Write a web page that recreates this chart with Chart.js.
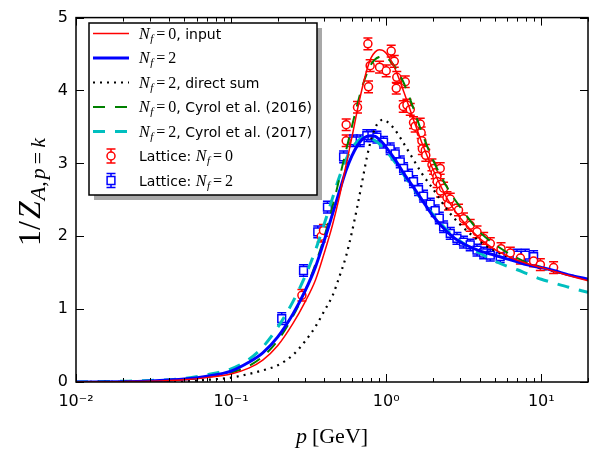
<!DOCTYPE html>
<html lang="en">
<head>
<meta charset="utf-8">
<title>Gluon dressing 1/Z_A</title>
<script src="https://cdn.jsdelivr.net/npm/chart.js@4.4.0/dist/chart.umd.min.js"></script>
<style>
  body { margin: 0; background: #fff; }
  #plot { display: block; }
</style>
</head>
<body>
<canvas id="plot" width="604" height="455"></canvas>
<script>
// momentum grid of the curves [GeV]
const pCurve = [0.01, 0.02, 0.03, 0.05, 0.07, 0.1, 0.13, 0.16, 0.2, 0.25, 0.3, 0.35, 0.4, 0.45, 0.5, 0.55,
  0.6, 0.65, 0.7, 0.75, 0.8, 0.85, 0.9, 0.95, 1.0, 1.1, 1.2, 1.3, 1.5, 1.7, 2.0, 2.5, 3.0, 4.0, 5.0, 6.0,
  7.0, 8.0, 10, 12, 15, 20];

// N_f = 0, input
const nf0Input = [0, 0.005, 0.01, 0.03, 0.06, 0.11, 0.19, 0.3, 0.5, 0.8, 1.1, 1.4, 1.78, 2.15, 2.55, 2.97,
  3.35, 3.72, 4.03, 4.28, 4.45, 4.53, 4.56, 4.55, 4.51, 4.37, 4.18, 3.98, 3.6, 3.28, 2.92, 2.5, 2.25, 1.97, 1.82, 1.73,
  1.67, 1.63, 1.57, 1.52, 1.46, 1.39];
// N_f = 2
const nf2 = [0, 0.005, 0.015, 0.04, 0.08, 0.15, 0.27, 0.4, 0.62, 0.93, 1.25, 1.58, 1.95, 2.3, 2.62, 2.9,
  3.1, 3.24, 3.33, 3.37, 3.38, 3.37, 3.33, 3.28, 3.22, 3.1, 2.98, 2.86, 2.67, 2.5, 2.28, 2.05, 1.92, 1.8, 1.74, 1.69,
  1.65, 1.61, 1.57, 1.53, 1.47, 1.41];
// N_f = 2, direct sum
const nf2Direct = [0, 0.002, 0.005, 0.01, 0.03, 0.06, 0.11, 0.16, 0.23, 0.37, 0.56, 0.76, 0.98, 1.18, 1.45, 1.72,
  2.05, 2.4, 2.75, 3.08, 3.33, 3.49, 3.57, 3.6, 3.58, 3.5, 3.39, 3.27, 3.05, 2.86, 2.65, 2.35, 2.16, 1.93, 1.8, 1.72,
  1.66, 1.62, 1.56, 1.52, 1.47, 1.41];
// N_f = 0, Cyrol et al. (2016)
const nf0Cyrol = [0, 0.005, 0.012, 0.035, 0.07, 0.13, 0.22, 0.35, 0.57, 0.9, 1.25, 1.62, 2.0, 2.4, 2.8, 3.17,
  3.5, 3.8, 4.05, 4.23, 4.36, 4.43, 4.46, 4.47, 4.45, 4.37, 4.24, 4.1, 3.75, 3.42, 3.05, 2.65, 2.4, 2.06, 1.89, 1.78,
  1.7, 1.64, 1.58, null, null, null];
// N_f = 2, Cyrol et al. (2017)
const nf2Cyrol = [0, 0.01, 0.02, 0.05, 0.1, 0.18, 0.31, 0.48, 0.75, 1.1, 1.45, 1.81, 2.18, 2.52, 2.82, 3.05,
  3.2, 3.3, 3.35, 3.36, 3.34, 3.31, 3.27, 3.22, 3.17, 3.06, 2.95, 2.84, 2.65, 2.5, 2.3, 2.07, 1.93, 1.77, 1.66, 1.59,
  1.54, 1.49, 1.41, 1.36, 1.3, 1.23];

// lattice, N_f = 0
const latP0 = [0.286, 0.381, 0.394, 0.552, 0.552, 0.653, 0.762, 0.769, 0.788, 0.906, 1.0, 1.077, 1.127, 1.161,
  1.17, 1.288, 1.327, 1.36, 1.429, 1.5, 1.538, 1.657, 1.68, 1.698, 1.71, 1.786, 1.8, 1.972, 2.02, 2.07, 2.123,
  2.13, 2.229, 2.23, 2.24, 2.344, 2.465, 2.52, 2.588, 2.926, 3.15, 3.48, 3.85, 4.25, 4.69, 5.5, 6.31, 7.33, 8.92,
  9.86, 12.0];
const latV0 = [1.19, 2.0, 2.08, 3.31, 3.53, 3.77, 4.64, 4.05, 4.34, 4.32, 4.27, 4.54, 4.4, 4.03,
  4.18, 3.78, 4.12, 3.8, 3.74, 3.56, 3.51, 3.54, 3.42, 3.31, 3.2, 3.18, 3.11, 2.98, 2.93, 2.87, 2.82,
  2.75, 2.93, 2.71, 2.62, 2.66, 2.53, 2.44, 2.51, 2.36, 2.24, 2.15, 2.06, 1.97, 1.9, 1.83, 1.77, 1.7, 1.66,
  1.61, 1.57];
// lattice, N_f = 2
const latP2 = [0.212, 0.293, 0.362, 0.418, 0.531, 0.615, 0.68, 0.75, 0.809, 0.871, 0.961, 1.061, 1.143, 1.232,
  1.294, 1.393, 1.5, 1.616, 1.74, 1.923, 2.07, 2.2, 2.344, 2.588, 2.858, 3.15, 3.48, 3.85, 4.25, 4.69, 5.43,
  6.97, 7.88, 8.92];
const latV2 = [0.87, 1.53, 2.06, 2.4, 3.09, 3.31, 3.31, 3.38, 3.38, 3.36, 3.29, 3.2, 3.13, 3.02,
  2.93, 2.84, 2.75, 2.64, 2.55, 2.44, 2.35, 2.25, 2.13, 2.04, 1.97, 1.92, 1.88, 1.81, 1.77, 1.74, 1.72,
  1.74, 1.74, 1.72];
const latErr = 0.08;

const xMajor = [0.01, 0.1, 1, 10];
const xLabels = ['10\u207B\u00B2', '10\u207B\u00B9', '10\u2070', '10\u00B9'];

Chart.defaults.font.family = '"DejaVu Sans", sans-serif';
Chart.defaults.color = '#000';

function pts(px, ys) {
  return px.map((p, i) => ({ x: p, y: ys[i] }));
}

function curve(label, ys, color, width, dash) {
  return {
    label: label, data: pts(pCurve, ys), showLine: true, borderColor: color, borderWidth: width,
    borderDash: dash, pointRadius: 0, pointHoverRadius: 0, cubicInterpolationMode: 'monotone', spanGaps: false
  };
}

function lattice(label, px, ys, color, style, radius) {
  return {
    label: label, data: pts(px, ys), showLine: false, borderColor: color, backgroundColor: '#fff',
    pointStyle: style, pointRadius: radius, pointBorderWidth: 1.5, errorBar: latErr
  };
}

// text with N_f written as math
function seg(ctx, t, font, x, y) {
  ctx.font = font;
  ctx.fillText(t, x, y);
  return x + ctx.measureText(t).width;
}
function drawRich(ctx, text, x, y) {
  const serif = '"Liberation Serif", serif';
  text.split(/(N_f=\d)/).forEach(part => {
    if (!part) return;
    const m = part.match(/^N_f=(\d)$/);
    if (m) {
      x = seg(ctx, 'N', 'italic 16px ' + serif, x, y);
      x = seg(ctx, 'f', 'italic 11px ' + serif, x + 0.5, y + 3);
      x = seg(ctx, '=', '16px ' + serif, x + 3, y);
      x = seg(ctx, m[1], '16px ' + serif, x + 3, y);
    } else {
      x = seg(ctx, part, '14px "DejaVu Sans"', x, y);
    }
  });
}

// matplotlib like error bars
const errorBars = {
  id: 'errorBars',
  beforeDatasetsDraw(chart) {
    const { ctx, scales: { y } } = chart;
    ctx.save();
    chart.data.datasets.forEach((ds, i) => {
      if (!ds.errorBar) return;
      const meta = chart.getDatasetMeta(i);
      ctx.strokeStyle = ds.borderColor;
      ctx.lineWidth = 1.5;
      meta.data.forEach((el, k) => {
        const v = ds.data[k].y;
        const y1 = y.getPixelForValue(v + ds.errorBar);
        const y2 = y.getPixelForValue(v - ds.errorBar);
        ctx.beginPath();
        ctx.moveTo(el.x, y1); ctx.lineTo(el.x, y2);
        ctx.moveTo(el.x - 4.5, y1); ctx.lineTo(el.x + 4.5, y1);
        ctx.moveTo(el.x - 4.5, y2); ctx.lineTo(el.x + 4.5, y2);
        ctx.stroke();
      });
    });
    ctx.restore();
  }
};

// frame with inward ticks, axis titles, boxed legend
const decorations = {
  id: 'decorations',
  afterDraw(chart) {
    const { ctx, chartArea: a, scales: { x, y } } = chart;
    ctx.save();
    ctx.strokeStyle = '#000';
    ctx.lineWidth = 1;
    ctx.beginPath();
    for (let d = -2; d <= 1; d++) {
      for (let m = 1; m <= 9; m++) {
        const v = m * Math.pow(10, d);
        if (v < x.min || v > x.max) continue;
        const px = Math.round(x.getPixelForValue(v)) + 0.5;
        const len = m === 1 ? 8 : 4;
        ctx.moveTo(px, a.bottom); ctx.lineTo(px, a.bottom - len);
        ctx.moveTo(px, a.top); ctx.lineTo(px, a.top + len);
      }
    }
    for (let v = 0; v <= 5; v++) {
      const py = Math.round(y.getPixelForValue(v)) + 0.5;
      ctx.moveTo(a.left, py); ctx.lineTo(a.left + 8, py);
      ctx.moveTo(a.right, py); ctx.lineTo(a.right - 8, py);
    }
    ctx.stroke();
    ctx.lineWidth = 1.5;
    ctx.strokeRect(a.left, a.top, a.right - a.left, a.bottom - a.top);

    // legend box
    const L = 89, T = 23, W = 228, H = 172;
    ctx.fillStyle = '#a8a8a8';
    ctx.fillRect(L + 5, T + 5, W, H);
    ctx.fillStyle = '#fff';
    ctx.fillRect(L, T, W, H);
    ctx.strokeStyle = '#000';
    ctx.strokeRect(L, T, W, H);
    chart.data.datasets.forEach((ds, i) => {
      const cy = T + 10.5 + i * 24.5;
      if (ds.showLine) {
        ctx.save();
        ctx.beginPath();
        ctx.setLineDash(ds.borderDash || []);
        ctx.lineWidth = ds.borderWidth;
        ctx.strokeStyle = ds.borderColor;
        ctx.moveTo(93, cy); ctx.lineTo(129, cy);
        ctx.stroke();
        ctx.restore();
      } else {
        ctx.save();
        ctx.strokeStyle = ds.borderColor;
        ctx.lineWidth = 1.5;
        ctx.beginPath();
        ctx.moveTo(111, cy - 7); ctx.lineTo(111, cy + 7);
        ctx.moveTo(106.5, cy - 7); ctx.lineTo(115.5, cy - 7);
        ctx.moveTo(106.5, cy + 7); ctx.lineTo(115.5, cy + 7);
        ctx.stroke();
        ctx.fillStyle = '#fff';
        Chart.helpers.drawPoint(ctx, { pointStyle: ds.pointStyle, radius: ds.pointRadius, borderWidth: 1.5, rotation: 0 }, 111, cy);
        ctx.restore();
      }
      ctx.fillStyle = '#000';
      ctx.textBaseline = 'alphabetic';
      drawRich(ctx, ds.label, 139, cy + 5);
    });

    // axis titles
    const serif = '"Liberation Serif", serif';
    ctx.fillStyle = '#000';
    ctx.textBaseline = 'alphabetic';
    // x: p [GeV]
    ctx.font = 'italic 22px ' + serif;
    const wp = ctx.measureText('p').width;
    ctx.font = '22px ' + serif;
    const wg = ctx.measureText('[GeV]').width;
    let xs = (a.left + a.right) / 2 - (wp + 5 + wg) / 2;
    xs = seg(ctx, 'p', 'italic 22px ' + serif, xs, 443);
    seg(ctx, '[GeV]', '22px ' + serif, xs + 5, 443);
    // y: 1/Z_{A,p=k}
    ctx.translate(40, 192);
    ctx.rotate(-Math.PI / 2);
    const parts = [
      ['1/', '32px ' + serif, 0, 0], ['Z', 'italic 32px ' + serif, 2, 0],
      ['A', 'italic 22px ' + serif, 1, 5], [',', '22px ' + serif, 0, 5], ['p', 'italic 22px ' + serif, 2, 5],
      ['=', '22px ' + serif, 4, 5], ['k', 'italic 22px ' + serif, 4, 5]
    ];
    let total = 0;
    parts.forEach(p => { ctx.font = p[1]; total += ctx.measureText(p[0]).width + p[2]; });
    let xr = -total / 2;
    parts.forEach(p => { xr = seg(ctx, p[0], p[1], xr + p[2], p[3]); });
    ctx.restore();
  }
};

new Chart(document.getElementById('plot'), {
  type: 'scatter',
  data: {
    datasets: [
      curve('N_f=0, input', nf0Input, '#ff0000', 1.5, []),
      curve('N_f=2', nf2, '#0000ff', 3, []),
      curve('N_f=2, direct sum', nf2Direct, '#000000', 2.2, [2, 5]),
      curve('N_f=0, Cyrol et al. (2016)', nf0Cyrol, '#008000', 2, [12, 10]),
      curve('N_f=2, Cyrol et al. (2017)', nf2Cyrol, '#00bfbf', 3, [12, 10]),
      lattice('Lattice: N_f=0', latP0, latV0, '#ff0000', 'circle', 4),
      lattice('Lattice: N_f=2', latP2, latV2, '#0000ff', 'rect', 5.5)
    ]
  },
  options: {
    responsive: false,
    animation: false,
    devicePixelRatio: 1,
    layout: { padding: { left: 0, right: 16, top: 9, bottom: 0 } },
    plugins: { legend: { display: false }, tooltip: { enabled: false } },
    scales: {
      x: {
        type: 'logarithmic', min: 0.01, max: 20,
        grid: { display: false, drawTicks: false },
        border: { display: false },
        afterBuildTicks: s => { s.ticks = xMajor.map(v => ({ value: v })); },
        afterFit: s => { s.height = 73; },
        ticks: {
          autoSkip: false, maxRotation: 0, padding: 10,
          font: { size: 16 },
          callback: (v, i) => xLabels[i]
        }
      },
      y: {
        min: 0, max: 5,
        grid: { display: false, drawTicks: false },
        border: { display: false },
        afterFit: s => { s.width = 76; },
        ticks: { stepSize: 1, padding: 8, font: { size: 16 } }
      }
    }
  },
  plugins: [errorBars, decorations]
});
</script>
</body>
</html>
